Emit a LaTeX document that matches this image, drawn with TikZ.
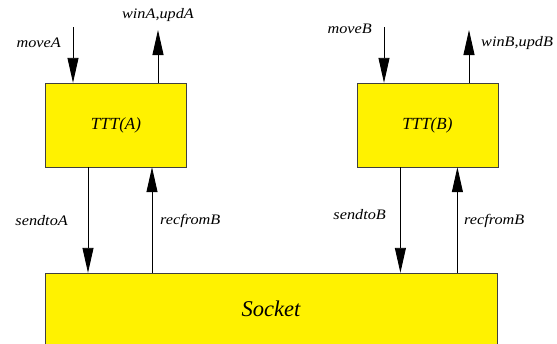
\documentclass[tikz,border=0pt]{standalone}
\usepackage{fontspec}
\setmainfont{Liberation Serif}
\newfontfamily\lblfont[FakeStretch=1.12]{Liberation Serif}
\usetikzlibrary{positioning,arrows.meta}

\tikzset{
  proc/.style={draw=black!75, fill=yellow, minimum width=141pt, minimum height=84pt,
    inner sep=0pt, font=\fontsize{17}{19}\selectfont\itshape},
  sock/.style={draw=black!75, fill=yellow, minimum width=452pt, minimum height=71pt,
    inner sep=0pt, font=\fontsize{22.5}{24}\selectfont\itshape},
  lbl/.style={inner sep=0pt, font=\lblfont\fontsize{14.5}{16}\selectfont\itshape},
  sig/.style={-{Triangle[length=25pt,width=11pt]}, black, line width=0.9pt}
}

\begin{document}
\begin{tikzpicture}[x=1pt, y=-1pt]
  \useasboundingbox (0,0) rectangle (557,343);
  \clip (0,0) rectangle (557,343);

  % Define nodes
  \node[proc]                      (tttA)   at (116,125) {TTT(A)};
  \node[proc, right=170pt of tttA] (tttB)   {TTT(B)};
  \node[sock]                      (socket) at (271,308.5) {Socket};

  % free ends of the user side signals
  \coordinate (inA)  at (73,27);
  \coordinate (outA) at (158,30);
  \coordinate (inB)  at (384,27);
  \coordinate (outB) at (469,30);

  % Labels
  \node[lbl, anchor=east] (moveA) at (61,43)  {moveA};
  \node[lbl]              (winA)  at (158,15) {winA,updA};
  \node[lbl, anchor=east] (moveB) at (372,29) {moveB};
  \node[lbl, anchor=west] (winB)  at (481,43) {winB,updB};
  \node[lbl, anchor=east] (sendA) at (68,221) {sendtoA};
  \node[lbl, anchor=west] (recA)  at (160,221) {recfromB};
  \node[lbl, anchor=east] (sendB) at (386,215) {sendtoB};
  \node[lbl, anchor=west] (recB)  at (464,221) {recfromB};

  % Connect the nodes
  \draw[sig] (inA) -- (inA |- tttA.north);
  \draw[sig] (tttA.north -| outA) -- (outA);
  \draw[sig] (inB) -- (inB |- tttB.north);
  \draw[sig] (tttB.north -| outB) -- (outB);

  \draw[sig] ([xshift=-28pt]tttA.south) -- ([xshift=-28pt]tttA.south |- socket.north);
  \draw[sig] ([xshift=36pt]tttA.south |- socket.north) -- ([xshift=36pt]tttA.south);
  \draw[sig] ([xshift=-27pt]tttB.south) -- ([xshift=-27pt]tttB.south |- socket.north);
  \draw[sig] ([xshift=30pt]tttB.south |- socket.north) -- ([xshift=30pt]tttB.south);

\end{tikzpicture}
\end{document}
